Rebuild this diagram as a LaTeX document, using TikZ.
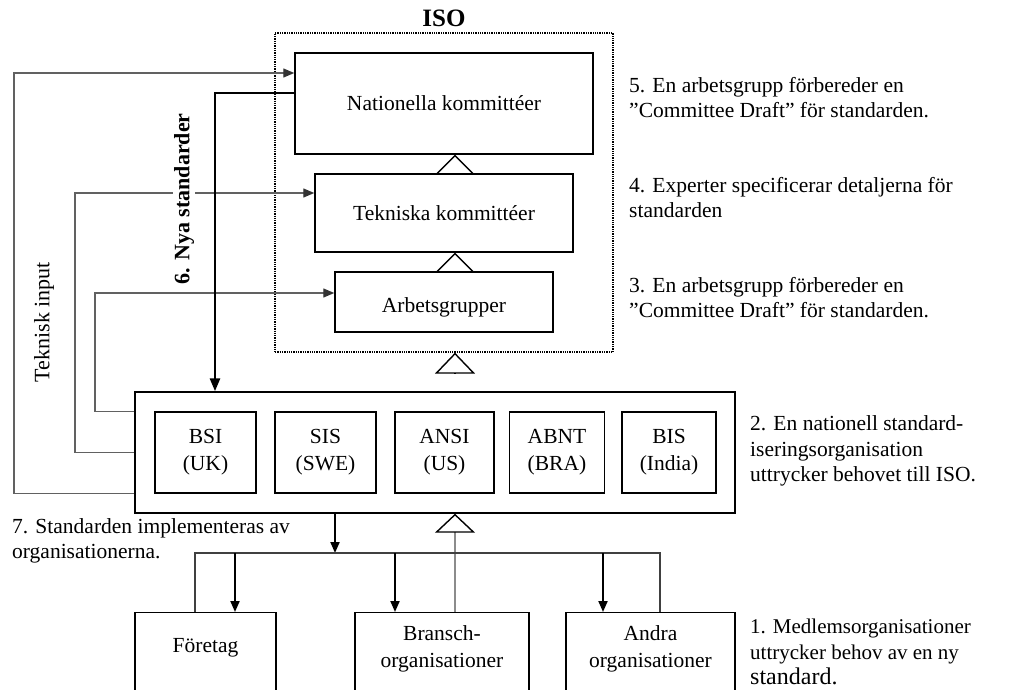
\documentclass[tikz,border=0pt]{standalone}
\usepackage{fontspec}
\setmainfont{Liberation Serif}
\usetikzlibrary{arrows.meta,calc}
\begin{document}
\begin{tikzpicture}[x=1pt,y=-1pt,
  box/.style={draw=black,line width=1.4pt,minimum width=#1,inner sep=0pt},
  boxtxt/.style={font=\fontsize{21.5}{27}\selectfont},
  side/.style={anchor=west,align=left,inner sep=0pt,font=\fontsize{21.5}{25.5}\selectfont},
  fb/.style={draw=black!62,line width=1.3pt,-{Triangle[length=11pt,width=9pt,color=black!80]}},
  plain/.style={draw=black!75,line width=1.3pt},
  down/.style={draw=black,line width=2pt,-{Triangle[length=11pt,width=9pt]}},
  nya/.style={draw=black,line width=2.6pt,-{Triangle[length=13pt,width=10pt]}},
  gen/.style={line width=1.4pt,-{Triangle[open,length=#1,width=40pt,color=black]}},
]
\clip (0,0) rectangle (1010,690);
\fill[white] (0,0) rectangle (1010,690);

% ISO container
\node[draw=black,densely dotted,line width=1.3pt,minimum width=338pt,minimum height=319pt,inner sep=0pt] (iso) at (444,192.5) {};
\node[font=\fontsize{25}{28}\selectfont\bfseries] (isolbl) at (444,18.5) {ISO};

\node[box=298pt,minimum height=101pt,boxtxt] (nat) at (444,103.5) {Nationella kommittéer};
\node[box=258pt,minimum height=78pt,boxtxt] (tek) at (444,213) {Tekniska kommittéer};
\node[box=218pt,minimum height=60pt,boxtxt,text height=26pt,text depth=5pt] (arb) at (444,302) {Arbetsgrupper};

% national organisations
\node[box=600pt,minimum height=121pt] (natorg) at (435,452.5) {};
\node[box=101pt,minimum height=81pt,boxtxt,align=center] (bsi) at (205.5,452.5) {BSI\\(UK)};
\node[box=101pt,minimum height=81pt,boxtxt,align=center] (sis) at (325.5,452.5) {SIS\\(SWE)};
\node[box=99pt,minimum height=81pt,boxtxt,align=center] (ansi) at (444.5,452.5) {ANSI\\(US)};
\node[box=95pt,minimum height=81pt,boxtxt,align=center] (abnt) at (557,452.5) {ABNT\\(BRA)};
\node[box=94pt,minimum height=81pt,boxtxt,align=center] (bis) at (669,452.5) {BIS\\(India)};

% member organisations (cut by the page edge)
\node[box=141pt,minimum height=130pt,anchor=north] (foretag) at (205.5,612) {};
\node[box=174pt,minimum height=130pt,anchor=north] (bransch) at (442,612) {};
\node[box=169pt,minimum height=130pt,anchor=north] (andra) at (650.5,612) {};
\node[boxtxt] (foretagtxt) at (205.5,648) {Företag};
\node[boxtxt,align=center] (branschtxt) at (442,649) {Bransch-\\organisationer};
\node[boxtxt,align=center] (andratxt) at (650.5,649) {Andra\\organisationer};

% generalisation triangles
\coordinate (tx) at (455,0);
\coordinate (t3b) at (455,373);
\draw[gen=20pt] (tek.north -| tx) -- (nat.south -| tx);
\draw[gen=20pt] (arb.north -| tx) -- (tek.south -| tx);
\draw[gen=21pt] (t3b) -- (iso.south -| tx);
\draw[gen=19pt,draw=black!45] (bransch.north -| tx) -- (natorg.south -| tx);

% technical input feedback lines
\coordinate (c1) at (14,73);
\coordinate (c2) at (75,193);
\coordinate (c3) at (95,293);
\draw[fb] (natorg.west |- bsi.south) -| (c1) -- ([yshift=30.5pt]nat.west);
\draw[fb] (natorg.west) -| (c2) -- ([yshift=20pt]tek.west);
\draw[fb] (natorg.west |- bsi.north) -| (c3) -- ([yshift=9pt]arb.west);

% new standards
\coordinate (nyaX) at (215,0);
\draw[nya] ([yshift=10.5pt]nat.west) -| (natorg.north -| nyaX);
\node[rotate=90,fill=white,inner sep=1pt,font=\fontsize{22}{25}\selectfont\bfseries] (nyalbl) at (184,199) {6. Nya standarder};
\node[rotate=90,inner sep=1pt,font=\fontsize{22}{25}\selectfont] (teklbl) at (44,322) {Teknisk input};

% distribution to organisations
\coordinate (bus) at (335,553);
\coordinate (b1) at (195,553);
\coordinate (b2) at (235,553);
\coordinate (b3) at (395,553);
\coordinate (b4) at (603,553);
\coordinate (b5) at (660,553);
\draw[down] (natorg.south -| bus) -- (bus);
\draw[plain] (b1 |- foretag.north) -- (b1) -- (b5) -- (b5 |- andra.north);
\draw[down] (b2) -- (b2 |- foretag.north);
\draw[down] (b3) -- (b3 |- bransch.north);
\draw[down] (b4) -- (b4 |- andra.north);

% side texts
\node[side] (s5) at (629,97.5) {5. En arbetsgrupp förbereder en\\”Committee Draft” för standarden.};
\node[side] (s4) at (629,197.5) {4. Experter specificerar detaljerna för\\standarden};
\node[side] (s3) at (629,297.5) {3. En arbetsgrupp förbereder en\\”Committee Draft” för standarden.};
\node[side] (s2) at (750,451) {2. En nationell standard-\\iseringsorganisation\\uttrycker behovet till ISO.};
\node[side,font=\fontsize{21}{25.5}\selectfont] (s1) at (750,652) {1. Medlemsorganisationer\\uttrycker behov av en ny\\{\fontsize{24}{25}\selectfont standard.}};
\node[side] (s7) at (12,541) {7. Standarden implementeras av\\organisationerna.};
\end{tikzpicture}
\end{document}
